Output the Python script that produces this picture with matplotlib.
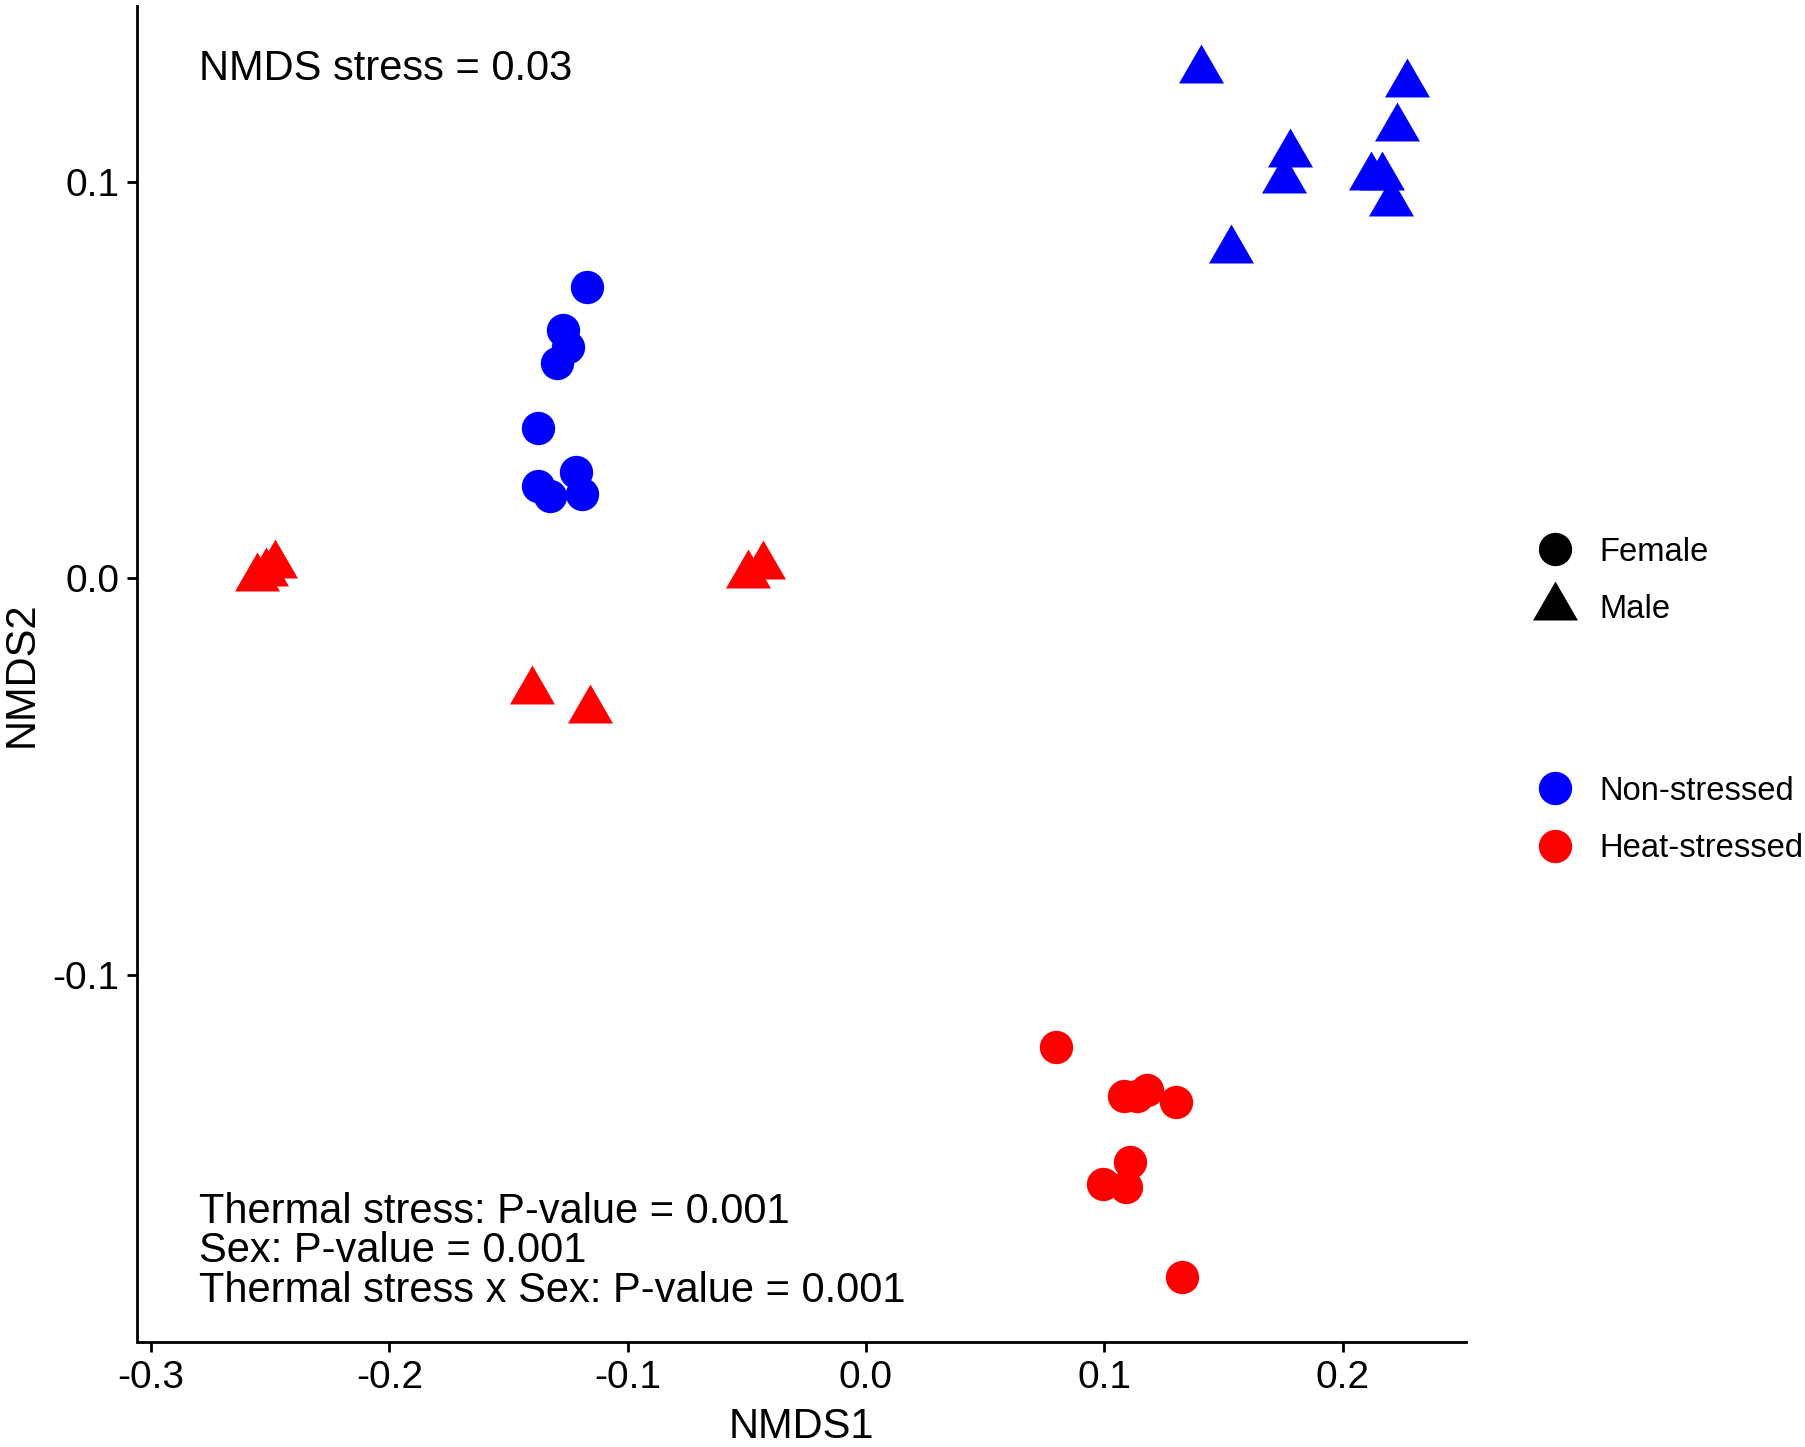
import matplotlib
matplotlib.use("Agg")
import matplotlib.pyplot as plt
from matplotlib.lines import Line2D
from matplotlib.path import Path
import numpy as np

plt.rcParams['font.family'] = ['Liberation Sans', 'DejaVu Sans']

# ---- data ----
ns_female_x = [-0.1172, -0.1273, -0.1249, -0.1298, -0.1378, -0.1217, -0.1378, -0.1326, -0.1193]
ns_female_y = [0.0735, 0.0626, 0.0584, 0.0543, 0.0379, 0.0268, 0.0233, 0.0207, 0.0213]

ns_male_x = [0.1405, 0.2271, 0.2227, 0.1779, 0.1754, 0.2118, 0.2164, 0.2202, 0.1532]
ns_male_y = [0.1282, 0.1247, 0.1135, 0.1070, 0.1004, 0.1012, 0.1011, 0.0946, 0.0828]

hs_female_x = [0.0796, 0.1083, 0.1136, 0.1178, 0.1301, 0.1108, 0.0993, 0.1091, 0.1325]
hs_female_y = [-0.1183, -0.1306, -0.1306, -0.1291, -0.1322, -0.1474, -0.1529, -0.1535, -0.1762]

hs_male_x = [-0.2480, -0.2518, -0.2554, -0.0431, -0.0496, -0.1400, -0.1157]
hs_male_y = [0.0034, 0.0013, 0.0001, 0.0031, 0.0007, -0.0286, -0.0334]

x_ticks = [-0.3, -0.2, -0.1, 0.0, 0.1, 0.2]
x_ticklabels = ["-0.3", "-0.2", "-0.1", "0.0", "0.1", "0.2"]
y_ticks = [-0.1, 0.0, 0.1]
y_ticklabels = ["-0.1", "0.0", "0.1"]

sex_labels = ["Female", "Male"]
treat_labels = ["Non-stressed", "Heat-stressed"]
treat_colors = ["#0000FF", "#FF0000"]

stress_text = "NMDS stress = 0.03"
perm_text = ("Thermal stress: P-value = 0.001\n"
             "Sex: P-value = 0.001\n"
             "Thermal stress x Sex: P-value = 0.001")

# ---- figure ----
W, H = 1806, 1447
DPI = 200
fig = plt.figure(figsize=(W / DPI, H / DPI), dpi=DPI)
ax = fig.add_axes([137.5 / W, 1 - 1342 / H, (1466 - 137.5) / W, (1342 - 6) / H])

# ggplot-style triangle (centroid at the data point)
tri = Path([(-0.5, -0.2887), (0.5, -0.2887), (0.0, 0.5774), (-0.5, -0.2887)],
           [Path.MOVETO, Path.LINETO, Path.LINETO, Path.CLOSEPOLY])

circ_ms = 12.0
tri_ms = 18.7

ax.plot(ns_female_x, ns_female_y, linestyle='none', marker='o', ms=circ_ms,
        color=treat_colors[0], markeredgewidth=0)
ax.plot(ns_male_x, ns_male_y, linestyle='none', marker=tri, ms=tri_ms,
        color=treat_colors[0], markeredgewidth=0)
ax.plot(hs_female_x, hs_female_y, linestyle='none', marker='o', ms=circ_ms,
        color=treat_colors[1], markeredgewidth=0)
ax.plot(hs_male_x, hs_male_y, linestyle='none', marker=tri, ms=tri_ms,
        color=treat_colors[1], markeredgewidth=0)

ax.set_xlim(-0.3057, 0.2518)
ax.set_ylim(-0.1927, 0.1443)

ax.set_xticks(x_ticks)
ax.set_xticklabels(x_ticklabels)
ax.set_yticks(y_ticks)
ax.set_yticklabels(y_ticklabels)

for s in ['top', 'right']:
    ax.spines[s].set_visible(False)
for s in ['left', 'bottom']:
    ax.spines[s].set_linewidth(1.0)
    ax.spines[s].set_color('black')
ax.tick_params(axis='both', length=3.5, width=1.0, color='black',
               labelsize=14, labelcolor='black', pad=3)

ax.set_xlabel("NMDS1", fontsize=15, labelpad=4)
ax.set_ylabel("NMDS2", fontsize=15, labelpad=4)

ax.text(-0.280, 0.1284, stress_text, fontsize=15, ha='left', va='center')
ax.text(-0.280, -0.1698, perm_text, fontsize=15, ha='left', va='center',
        linespacing=0.98)

# ---- legends ----
shape_handles = [
    Line2D([], [], linestyle='none', marker='o', ms=circ_ms, color='black', markeredgewidth=0),
    Line2D([], [], linestyle='none', marker=tri, ms=tri_ms, color='black', markeredgewidth=0),
]
color_handles = [
    Line2D([], [], linestyle='none', marker='o', ms=circ_ms, color=c, markeredgewidth=0)
    for c in treat_colors
]

leg_kw = dict(loc='center left', frameon=False, fontsize=11.8, borderpad=0,
              handlelength=1.2, handletextpad=0.77, labelspacing=0.80,
              borderaxespad=0)
leg1 = fig.legend(shape_handles, sex_labels,
                  bbox_to_anchor=(1535 / W, 1 - 581 / H), **leg_kw)
leg2 = fig.legend(color_handles, treat_labels,
                  bbox_to_anchor=(1535 / W, 1 - 820 / H), **leg_kw)

fig.savefig("out.png", dpi=DPI, facecolor='white')
